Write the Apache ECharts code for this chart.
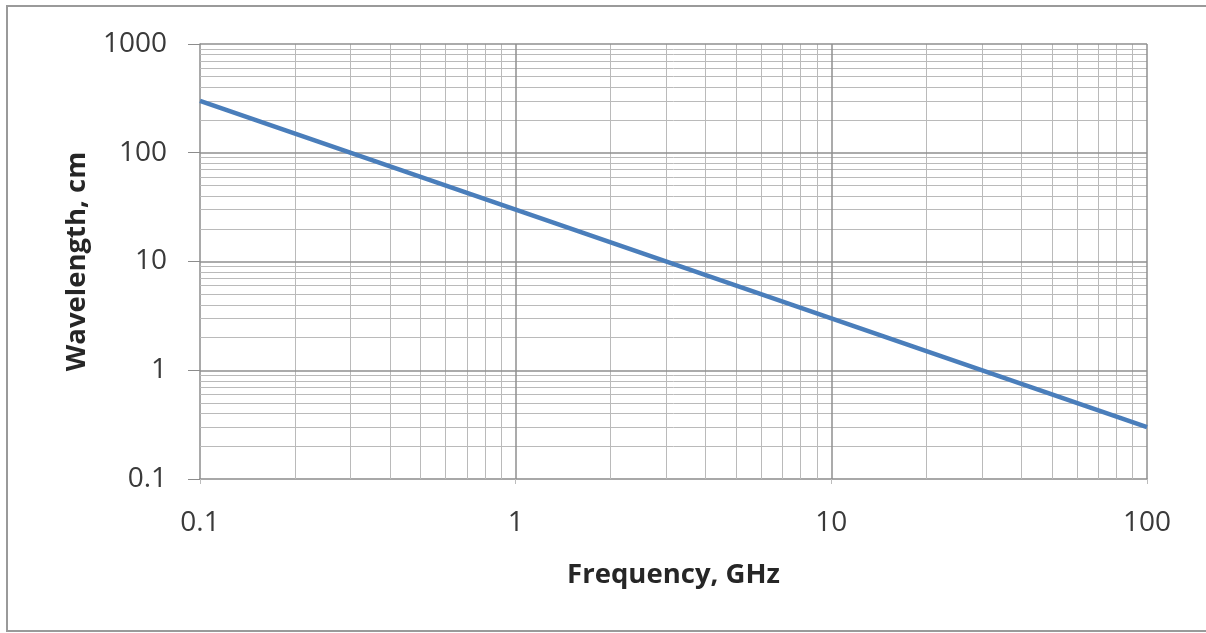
<!DOCTYPE html>
<html>
<head>
<meta charset="utf-8">
<script src="https://cdn.jsdelivr.net/npm/echarts@6/dist/echarts.min.js"></script>
<style>
  html, body { margin: 0; padding: 0; background: #fff; }
  #chart { width: 1206px; height: 633px; }
</style>
</head>
<body>
<div id="chart"></div>
<script>
// Frequency (GHz) vs wavelength (cm)
const frequency = [0.1, 1, 10, 100];
const wavelength = [300, 30, 3, 0.3];

// log-paper grid values
const xMajor = [0.1, 1, 10, 100];
const yMajor = [0.1, 1, 10, 100, 1000];
const steps = [2, 3, 4, 5, 6, 7, 8, 9];
const xMinor = [0.1, 1, 10].flatMap(d => steps.map(s => +(d * s).toPrecision(3)));
const yMinor = [0.1, 1, 10, 100].flatMap(d => steps.map(s => +(d * s).toPrecision(3)));

const chart = echarts.init(document.getElementById('chart'));

const font = 'Open Sans';
const plain = v => String(+v.toPrecision(3));

const option = {
  animation: false,
  backgroundColor: '#fff',
  graphic: [{
    type: 'rect',
    shape: { x: 7, y: 6, width: 1205, height: 625 },
    style: { fill: 'none', stroke: '#9a9a9a', lineWidth: 2 },
    silent: true
  }],
  grid: { left: 200, right: 59, top: 44, bottom: 154 },
  xAxis: {
    type: 'log',
    logBase: 10,
    min: 0.1,
    max: 100,
    name: 'Frequency, GHz',
    nameLocation: 'middle',
    nameGap: 82,
    nameTextStyle: { fontFamily: font, fontWeight: 'bold', fontSize: 27.5, color: '#262626' },
    axisLine: { show: true, lineStyle: { color: '#8c8c8c', width: 1.5 } },
    axisTick: { show: true, length: 5, lineStyle: { color: '#bcbcbc' } },
    axisLabel: { fontFamily: font, fontSize: 28, color: '#3a3a3a', margin: 30, formatter: plain },
    splitLine: { show: false }
  },
  yAxis: {
    type: 'log',
    logBase: 10,
    min: 0.1,
    max: 1000,
    name: 'Wavelength, cm',
    nameLocation: 'middle',
    nameGap: 109,
    nameTextStyle: { fontFamily: font, fontWeight: 'bold', fontSize: 27.5, color: '#262626' },
    axisLine: { show: true, lineStyle: { color: '#8c8c8c', width: 1.5 } },
    axisTick: { show: true, length: 12, lineStyle: { color: '#8c8c8c' } },
    axisLabel: { fontFamily: font, fontSize: 28, color: '#3a3a3a', margin: 33, formatter: plain },
    splitLine: { show: false }
  },
  series: [
    {
      name: 'minor grid',
      type: 'line',
      data: [],
      z: 1,
      silent: true,
      markLine: {
        silent: true,
        symbol: 'none',
        label: { show: false },
        lineStyle: { color: '#bababa', width: 1, type: 'solid' },
        data: xMinor.map(v => ({ xAxis: v })).concat(yMinor.map(v => ({ yAxis: v })))
      }
    },
    {
      name: 'major grid',
      type: 'line',
      data: [],
      z: 2,
      silent: true,
      markLine: {
        silent: true,
        symbol: 'none',
        label: { show: false },
        lineStyle: { color: '#8f8f8f', width: 1.5, type: 'solid' },
        data: xMajor.slice(1).map(v => ({ xAxis: v })).concat(yMajor.slice(1).map(v => ({ yAxis: v })))
      }
    },
    {
      name: 'Wavelength',
      type: 'line',
      z: 5,
      data: frequency.map((f, i) => [f, wavelength[i]]),
      showSymbol: false,
      lineStyle: { color: '#4a7ebb', width: 4.5 }
    }
  ]
};

chart.setOption(option);
</script>
</body>
</html>
